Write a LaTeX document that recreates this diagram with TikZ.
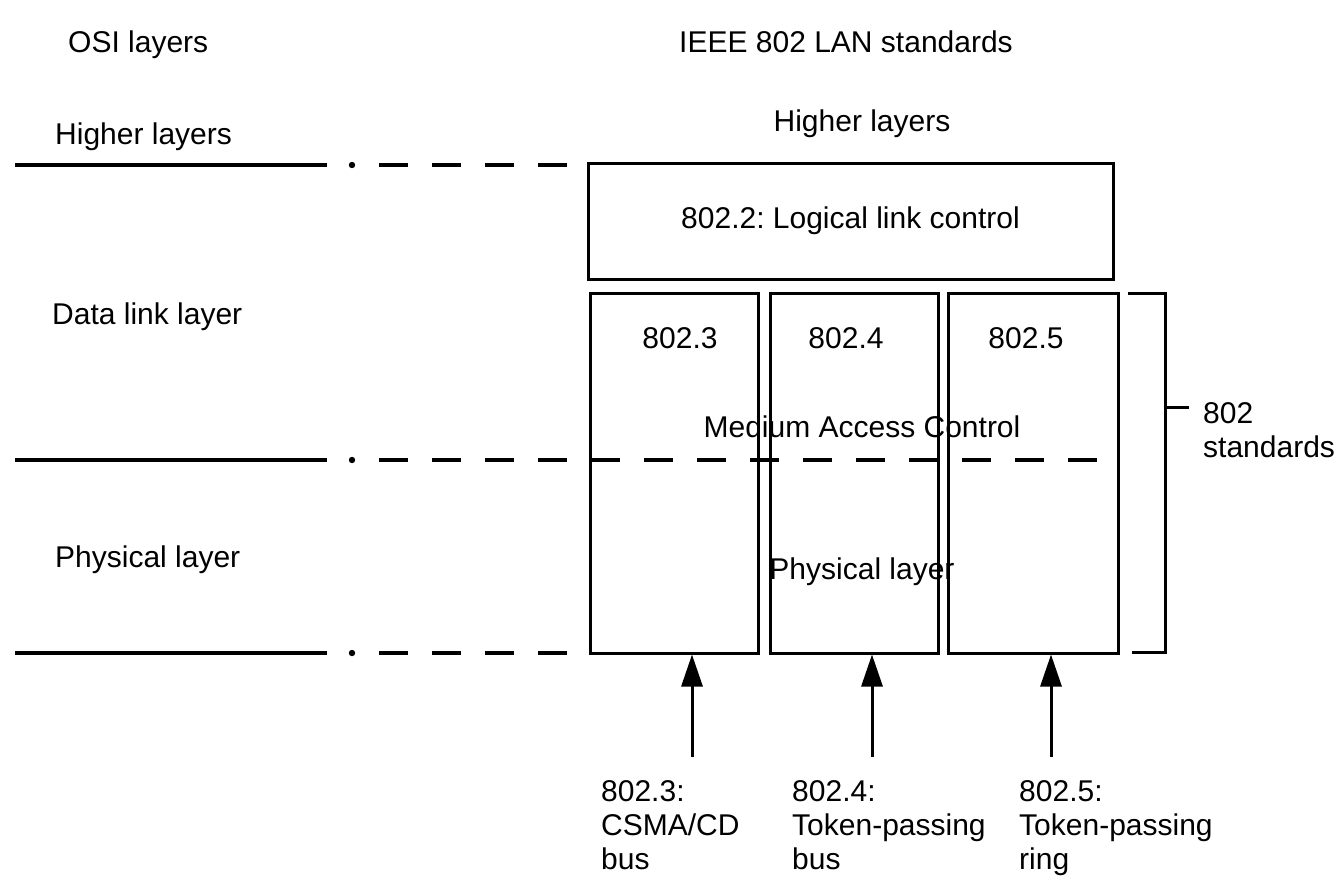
\documentclass[tikz,border=0pt]{standalone}
\usepackage{fontspec}
\setmainfont{Liberation Sans}
\usetikzlibrary{arrows.meta}
\begin{document}
\begin{tikzpicture}[x=1pt,y=-1pt,
  txt/.style={font=\fontsize{30}{34}\selectfont\frenchspacing, inner sep=0pt},
  lbl/.style={txt, anchor=base west},
  ctr/.style={txt, anchor=base},
  multi/.style={txt, anchor=north west, align=left},
  solidline/.style={line width=3.2pt},
  dashline/.style={line width=3.2pt, dash pattern=on 29pt off 24pt},
  boxline/.style={draw, line width=3pt, inner sep=0pt},
  uparrow/.style={line width=3pt, -{Triangle[length=32pt,width=21pt]}}
]
\useasboundingbox (0,0) rectangle (1340,878);

% headings
\node[lbl] (osi) at (68,52) {OSI layers};
\node[ctr] (ieee) at (846,52) {IEEE 802 LAN standards};
\node[ctr] (hlr) at (862,131) {Higher layers};

% left layer labels
\node[lbl] (hl) at (55,144) {Higher layers};
\node[lbl] (dl) at (52,324) {Data link layer};
\node[lbl] (pl) at (55,567) {Physical layer};

% layer boundary lines
\foreach \y/\e in {165/568, 460/1098, 653/568} {
  \draw[solidline] (15,\y) -- (327,\y);
  \fill (352,\y) circle (3.2pt);
  \draw[dashline] (379,\y) -- (\e,\y);
}

% LLC box
\node[boxline, minimum width=525pt, minimum height=116pt, txt] (llc) at (850.5,221) {802.2: Logical link control};

% MAC / PHY columns
\node[boxline, minimum width=168pt, minimum height=360pt] (b3) at (674,473) {};
\node[boxline, minimum width=168pt, minimum height=360pt] (b4) at (854,473) {};
\node[boxline, minimum width=170pt, minimum height=360pt] (b5) at (1033,473) {};

\node[ctr] (t3) at (680,348) {802.3};
\node[ctr] (t4) at (846,348) {802.4};
\node[ctr] (t5) at (1026,348) {802.5};

\node[ctr] (mac) at (862,437) {Medium Access Control};
\node[ctr] (phy) at (862,579) {Physical layer};

% bracket
\draw[line width=3pt] (1128,293) -- (1165,293) -- (1165,652) -- (1132,652);
\coordinate (brk) at (1165,407);
\node[multi] (std) at (1203,402) {802\\standards};
\draw[line width=3pt] (brk) -- (1189,407);

% bottom labels and arrows
\node[multi] (l3) at (601,780) {802.3:\\CSMA/CD\\bus};
\node[multi] (l4) at (792,780) {802.4:\\Token-passing\\bus};
\node[multi] (l5) at (1019,780) {802.5:\\Token-passing\\ring};

\coordinate (a3) at (692,757);
\coordinate (a4) at (872,757);
\coordinate (a5) at (1051,757);
\draw[uparrow] (a3) -- (a3 |- b3.south);
\draw[uparrow] (a4) -- (a4 |- b4.south);
\draw[uparrow] (a5) -- (a5 |- b5.south);
\end{tikzpicture}
\end{document}
